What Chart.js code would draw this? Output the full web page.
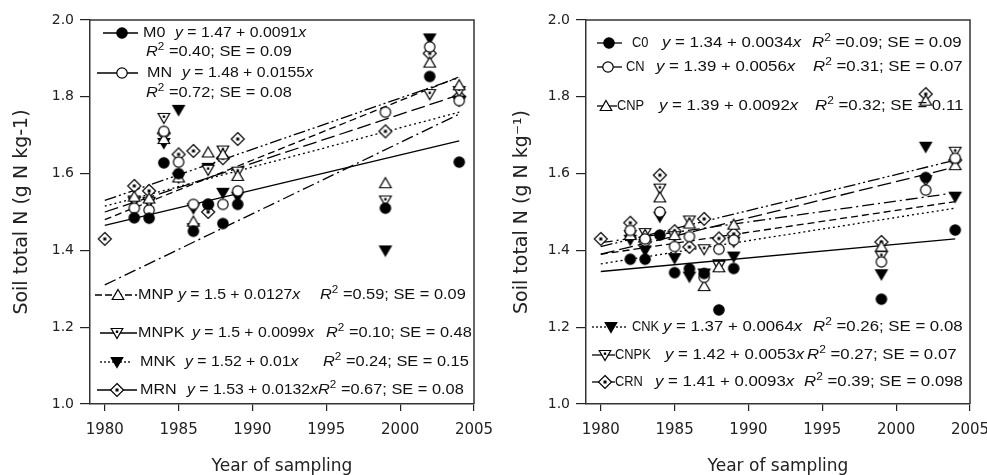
<!DOCTYPE html>
<html>
<head>
<meta charset="utf-8">
<script src="https://cdn.jsdelivr.net/npm/chart.js@4.4.0/dist/chart.umd.min.js"></script>
<style>
  body { margin: 0; background: #fff; }
  #leftChart { position: absolute; left: 0; top: 0; }
  #rightChart { position: absolute; left: 493px; top: 0; }
</style>
</head>
<body>
<canvas id="leftChart" width="493" height="475"></canvas>
<canvas id="rightChart" width="494" height="475"></canvas>
<script>
// sampling years and axis ticks
var years = [1980, 1982, 1983, 1984, 1985, 1986, 1987, 1988, 1989, 1999, 2002, 2004];
var xTicks = [1980, 1985, 1990, 1995, 2000, 2005];
var yTicks = [1.0, 1.2, 1.4, 1.6, 1.8, 2.0];
var fitYears = [1980, 2004];

// left panel (manure treatments)
var leftNames = ["M0", "MN", "MNP", "MNPK", "MNK", "MRN"];
var M0 = [null, 1.485, 1.484, 1.628, 1.6, 1.45, 1.52, 1.47, 1.52, 1.51, 1.853, 1.63];
var MN = [null, 1.51, 1.505, 1.71, 1.63, 1.52, 1.52, 1.52, 1.555, 1.76, 1.93, 1.79];
var MNP = [null, 1.54, 1.535, 1.69, 1.59, 1.475, 1.655, 1.65, 1.594, 1.575, 1.889, 1.83];
var MNPK = [null, 1.53, 1.527, 1.745, 1.59, 1.458, 1.61, 1.66, 1.605, 1.53, 1.807, 1.815];
var MNK = [null, 1.527, 1.525, 1.68, 1.766, 1.51, 1.615, 1.55, 1.54, 1.4, 1.952, 1.79];
var MRN = [1.43, 1.568, 1.555, 1.705, 1.65, 1.659, 1.5, 1.64, 1.69, 1.71, 1.913, 1.8];
var leftFitStart = [1.465, 1.48, 1.5, 1.31, 1.515, 1.53];
var leftFitEnd = [1.685, 1.852, 1.805, 1.755, 1.76, 1.85];
var leftIntercept = ["1.47", "1.48", "1.5", "1.5", "1.52", "1.53"];
var leftSlope = ["0.0091", "0.0155", "0.0127", "0.0099", "0.01", "0.0132"];
var leftR2 = ["0.40", "0.72", "0.59", "0.10", "0.24", "0.67"];
var leftSE = ["0.09", "0.08", "0.09", "0.48", "0.15", "0.08"];

// right panel (chemical treatments)
var rightNames = ["C0", "CN", "CNP", "CNK", "CNPK", "CRN"];
var C0 = [null, 1.377, 1.377, 1.44, 1.342, 1.352, 1.34, 1.245, 1.353, 1.273, 1.59, 1.453];
var CN = [null, 1.452, 1.43, 1.5, 1.41, 1.436, 1.33, 1.403, 1.427, 1.37, 1.557, 1.64];
var CNP = [null, 1.44, 1.44, 1.538, 1.44, 1.47, 1.307, 1.356, 1.467, 1.41, 1.79, 1.622];
var CNK = [null, 1.428, 1.4, 1.488, 1.38, 1.332, 1.34, 1.364, 1.384, 1.338, 1.67, 1.54];
var CNPK = [null, 1.44, 1.445, 1.561, 1.437, 1.478, 1.403, 1.36, 1.423, 1.385, 1.583, 1.657];
var CRN = [1.43, 1.472, 1.423, 1.596, 1.45, 1.409, 1.482, 1.431, 1.443, 1.422, 1.807, 1.635];
var rightFitStart = [1.345, 1.39, 1.39, 1.365, 1.42, 1.41];
var rightFitEnd = [1.43, 1.527, 1.617, 1.51, 1.55, 1.635];
var rightIntercept = ["1.34", "1.39", "1.39", "1.37", "1.42", "1.41"];
var rightSlope = ["0.0034", "0.0056", "0.0092", "0.0064", "0.0053", "0.0093"];
var rightR2 = ["0.09", "0.31", "0.32", "0.26", "0.27", "0.39"];
var rightSE = ["0.09", "0.07", "0.11", "0.08", "0.07", "0.098"];

var fontFamily = "'DejaVu Sans', sans-serif";
var legendFamily = "'Liberation Sans', Arial, sans-serif";

// point markers drawn into small canvases
function makeMarker(kind) {
  var c = document.createElement("canvas");
  c.width = 16;
  c.height = 16;
  var g = c.getContext("2d");
  g.translate(8, 8);
  g.lineWidth = 1.2;
  g.strokeStyle = "#000";
  g.fillStyle = "#fff";
  g.beginPath();
  if (kind === "filledCircle" || kind === "openCircle") {
    g.arc(0, 0, 5.2, 0, Math.PI * 2);
  } else if (kind === "triUp") {
    g.moveTo(0, -5.5);
    g.lineTo(5.8, 4.5);
    g.lineTo(-5.8, 4.5);
    g.closePath();
  } else if (kind === "triDownDot" || kind === "triDownFilled") {
    g.moveTo(0, 5.5);
    g.lineTo(5.8, -4.5);
    g.lineTo(-5.8, -4.5);
    g.closePath();
  } else {
    g.moveTo(0, -6.5);
    g.lineTo(6.5, 0);
    g.lineTo(0, 6.5);
    g.lineTo(-6.5, 0);
    g.closePath();
  }
  if (kind === "filledCircle" || kind === "triDownFilled") g.fillStyle = "#000";
  g.fill();
  g.stroke();
  if (kind === "diamondDot") {
    g.fillStyle = "#000";
    g.fillRect(-1.5, -1.5, 3, 3);
  } else if (kind === "triDownDot") {
    g.fillStyle = "#000";
    g.fillRect(-1.2, -2.5, 2.4, 2.4);
  }
  return c;
}

var markerKinds = ["filledCircle", "openCircle", "triUp", "triDownDot", "triDownFilled", "diamondDot"];
var markers = {};
markerKinds.forEach(function (k) {
  markers[k] = makeMarker(k);
});

// legend positions (canvas pixels)
var leftLegend = [
  { marker: "filledCircle", dash: [], line: [103, 138], y: 33, mx: 122, lx: 143, ex: 175, rx: 146, ry: 52 },
  { marker: "openCircle", dash: [], line: [97, 138], y: 73, mx: 122, lx: 147, ex: 182, rx: 146, ry: 93 },
  { marker: "triUp", dash: [7, 3], line: [95, 137], y: 295, mx: 118, lx: 138, ex: 178, rx: 320, ry: 295 },
  { marker: "triDownDot", dash: [], line: [100, 137], y: 333, mx: 117, lx: 138, ex: 192, rx: 326, ry: 333 },
  { marker: "triDownFilled", dash: [2, 2], line: [100, 132], y: 362, mx: 117, lx: 140, ex: 185, rx: 323, ry: 362 },
  { marker: "diamondDot", dash: [], line: [97, 137], y: 390, mx: 117, lx: 140, ex: 187, rx: 318, ry: 390 },
];
var rightLegend = [
  { marker: "filledCircle", dash: [], line: [104, 129], y: 43, mx: 116, lx: 139, ex: 169, rx: 319, ry: 43 },
  { marker: "openCircle", dash: [], line: [104, 129], y: 67, mx: 115, lx: 133, ex: 163, rx: 320, ry: 67 },
  { marker: "triUp", dash: [], line: [104, 124], y: 106, mx: 113, lx: 124, ex: 166, rx: 322, ry: 106 },
  { marker: "triDownFilled", dash: [2, 2], line: [99, 135], y: 327, mx: 118, lx: 139, ex: 170, rx: 320, ry: 327 },
  { marker: "triDownDot", dash: [], line: [99, 122], y: 355, mx: 112, lx: 122, ex: 172, rx: 314, ry: 355 },
  { marker: "diamondDot", dash: [], line: [99, 122], y: 382, mx: 112, lx: 122, ex: 162, rx: 311, ry: 382 },
];
// horizontal stretch of label, equation and R2 text
var leftStretch = [1.15, 1.13, 1.17];
var rightStretch = [0.92, 1.2, 1.2];

function drawParts(ctx, x, y, parts, stretch) {
  ctx.save();
  ctx.translate(x, y);
  ctx.scale(stretch, 1);
  ctx.fillStyle = "#111";
  ctx.textBaseline = "middle";
  ctx.textAlign = "left";
  var cx = 0;
  parts.forEach(function (p) {
    var size = p.sup ? 10 : 14;
    ctx.font = (p.it ? "italic " : "") + size + "px " + legendFamily;
    ctx.fillText(p.t, cx, p.sup ? -5 : 0);
    cx += ctx.measureText(p.t).width;
  });
  ctx.restore();
}

function legendPlugin(layout, stretch, names, intercept, slope, r2, se) {
  return {
    id: "richLegend",
    afterDraw: function (chart) {
      var ctx = chart.ctx;
      var area = chart.chartArea;
      // top and right frame
      ctx.save();
      ctx.strokeStyle = "#333";
      ctx.lineWidth = 1.5;
      ctx.beginPath();
      ctx.moveTo(area.left, area.top);
      ctx.lineTo(area.right, area.top);
      ctx.lineTo(area.right, area.bottom);
      ctx.stroke();
      ctx.restore();

      for (var i = 0; i < layout.length; i++) {
        var L = layout[i];
        ctx.save();
        ctx.strokeStyle = "#000";
        ctx.lineWidth = 1.3;
        ctx.setLineDash(L.dash);
        ctx.beginPath();
        ctx.moveTo(L.line[0], L.y);
        ctx.lineTo(L.line[1], L.y);
        ctx.stroke();
        ctx.restore();
        var m = markers[L.marker];
        ctx.drawImage(m, L.mx - m.width / 2, L.y - m.height / 2);
        drawParts(ctx, L.lx, L.y, [{ t: names[i] }], stretch[0]);
        drawParts(ctx, L.ex, L.y, [
          { t: "y", it: true },
          { t: " = " + intercept[i] + " + " + slope[i] },
          { t: "x", it: true },
        ], stretch[1]);
        drawParts(ctx, L.rx, L.ry, [
          { t: "R", it: true },
          { t: "2", sup: true },
          { t: " =" + r2[i] + "; SE = " + se[i] },
        ], stretch[2]);
      }
    },
  };
}

function makeChart(id, series, fitStart, fitEnd, dashes, yTitle, yWidth, titlePad, padRight, plugin) {
  var datasets = [];
  for (var i = 0; i < series.length; i++) {
    var pts = [];
    for (var j = 0; j < years.length; j++) {
      if (series[i][j] !== null) pts.push({ x: years[j], y: series[i][j] });
    }
    datasets.push({
      data: pts,
      pointStyle: markers[markerKinds[i]],
      pointRadius: 5,
      showLine: false,
      order: 1,
    });
  }
  for (var k = 0; k < series.length; k++) {
    datasets.push({
      data: [
        { x: fitYears[0], y: fitStart[k] },
        { x: fitYears[1], y: fitEnd[k] },
      ],
      showLine: true,
      borderColor: "#000",
      borderWidth: 1.3,
      borderDash: dashes[k],
      pointRadius: 0,
      order: 2,
    });
  }

  return new Chart(document.getElementById(id), {
    type: "scatter",
    data: { datasets: datasets },
    options: {
      responsive: false,
      animation: false,
      events: [],
      layout: { padding: { left: 0, right: padRight, top: 20, bottom: 0 } },
      plugins: { legend: { display: false }, tooltip: { enabled: false } },
      scales: {
        x: {
          type: "linear",
          min: 1979,
          max: 2005,
          afterBuildTicks: function (s) {
            s.ticks = xTicks.map(function (v) { return { value: v }; });
          },
          afterFit: function (s) {
            s.height = 71;
            s.paddingLeft = 0;
            s.paddingRight = 0;
          },
          grid: { drawOnChartArea: false, color: "#222", tickLength: 7, lineWidth: 1.2 },
          border: { color: "#333", width: 1.5 },
          ticks: {
            autoSkip: false,
            maxRotation: 0,
            padding: 10,
            color: "#222",
            font: { family: fontFamily, size: 15 },
            callback: function (v) { return String(v); },
          },
          title: {
            display: true,
            text: "Year of sampling",
            color: "#222",
            padding: 0,
            font: { family: fontFamily, size: 17, lineHeight: 1 },
          },
        },
        y: {
          min: 1,
          max: 2,
          afterBuildTicks: function (s) {
            s.ticks = yTicks.map(function (v) { return { value: v }; });
          },
          afterFit: function (s) {
            s.width = yWidth;
          },
          grid: { drawOnChartArea: false, color: "#222", tickLength: 10, lineWidth: 1.2 },
          border: { color: "#333", width: 1.5 },
          ticks: {
            padding: 6,
            color: "#222",
            font: { family: fontFamily, size: 14 },
            callback: function (v) { return Number(v).toFixed(1); },
          },
          title: {
            display: true,
            text: yTitle,
            color: "#222",
            padding: { top: titlePad, bottom: 0 },
            font: { family: fontFamily, size: 19, lineHeight: 1 },
          },
        },
      },
    },
    plugins: [plugin],
  });
}

var leftChart = makeChart(
  "leftChart",
  [M0, MN, MNP, MNPK, MNK, MRN],
  leftFitStart,
  leftFitEnd,
  [[], [7, 4], [14, 5], [12, 4, 2, 4], [2, 3], [12, 3, 2, 3, 2, 3]],
  "Soil total N (g N kg-1)",
  90,
  12.5,
  19,
  legendPlugin(leftLegend, leftStretch, leftNames, leftIntercept, leftSlope, leftR2, leftSE)
);

var rightChart = makeChart(
  "rightChart",
  [C0, CN, CNP, CNPK, CNK, CRN],
  [rightFitStart[0], rightFitStart[1], rightFitStart[2], rightFitStart[4], rightFitStart[3], rightFitStart[5]],
  [rightFitEnd[0], rightFitEnd[1], rightFitEnd[2], rightFitEnd[4], rightFitEnd[3], rightFitEnd[5]],
  [[], [7, 4], [14, 5], [12, 4, 2, 4], [2, 3], [12, 3, 2, 3, 2, 3]],
  "Soil total N (g N kg\u207B\u00B9)",
  93,
  19.5,
  17,
  legendPlugin(rightLegend, rightStretch, rightNames, rightIntercept, rightSlope, rightR2, rightSE)
);
</script>
</body>
</html>
